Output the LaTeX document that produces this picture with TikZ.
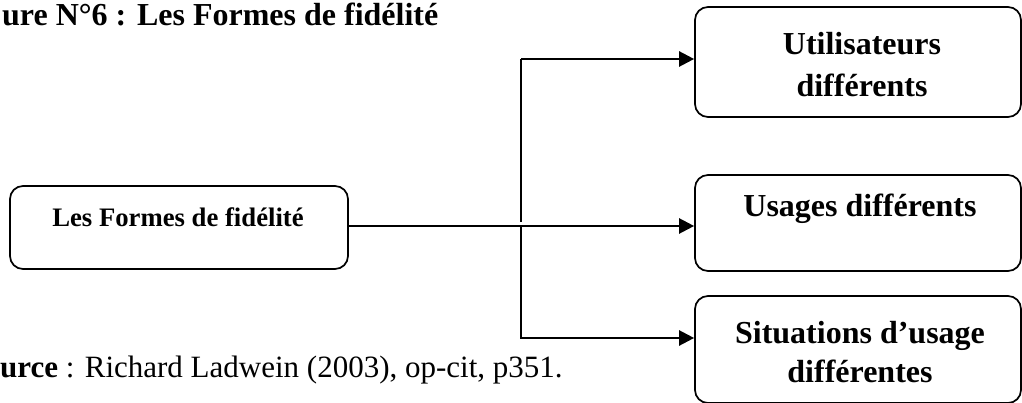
\documentclass[tikz,border=0pt]{standalone}
\usepackage{fontspec}
\setmainfont{Liberation Serif}
\usetikzlibrary{arrows.meta}
\begin{document}
\begin{tikzpicture}[x=1pt,y=-1pt,
  box/.style={draw=black, line width=1.7pt, rounded corners=13pt, inner sep=0pt},
  big/.style={font=\fontsize{32}{42}\selectfont\bfseries, inner sep=0pt, anchor=base},
  small/.style={font=\fontsize{26.7}{32}\selectfont\bfseries, inner sep=0pt, anchor=base},
  conn/.style={line width=2.4pt},
  thinconn/.style={line width=1.2pt},
  arr/.style={line width=2.4pt, -{Triangle[length=15pt,width=15pt]}}]
\useasboundingbox (0,0) rectangle (1022,403);

% title and source
\node[big, anchor=base west] (title) at (2,26) {ure N°6 : Les Formes de fidélité};
\node[inner sep=0pt, anchor=base west, font=\fontsize{31}{36}\selectfont] (source) at (0,377) {\textbf{urce} : Richard Ladwein (2003), op-cit, p351.};

% boxes
\node[box, minimum width=338pt, minimum height=83pt] (lbox) at (179,227.5) {};
\node[box, minimum width=326pt, minimum height=110pt] (tbox) at (858,62) {};
\node[box, minimum width=326pt, minimum height=96pt] (mbox) at (858,223) {};
\node[box, minimum width=326pt, minimum height=107pt] (bbox) at (858,349.5) {};

% texts
\node[small] (ltext) at (178,227) {Les Formes de fidélité};
\node[big] (ttext1) at (862,55) {Utilisateurs};
\node[big] (ttext2) at (862,97) {différents};
\node[big] (mtext) at (860,217) {Usages différents};
\node[big] (btext1) at (860,343) {Situations d’usage};
\node[big] (btext2) at (860,382) {différentes};

% connectors
\coordinate (j) at (521,226);
\coordinate (ju) at (521,222);
\coordinate (jt) at (521,59);
\coordinate (jb) at (521,338);

\draw[conn] (lbox.east |- j) -- (j);
\draw[arr] (j) -- (j -| mbox.west);
\draw[thinconn] (ju) -- (jt);
\draw[arr] (jt) -- (jt -| tbox.west);
\draw[arr] (j) -- (jb) -- (jb -| bbox.west);
\end{tikzpicture}
\end{document}
